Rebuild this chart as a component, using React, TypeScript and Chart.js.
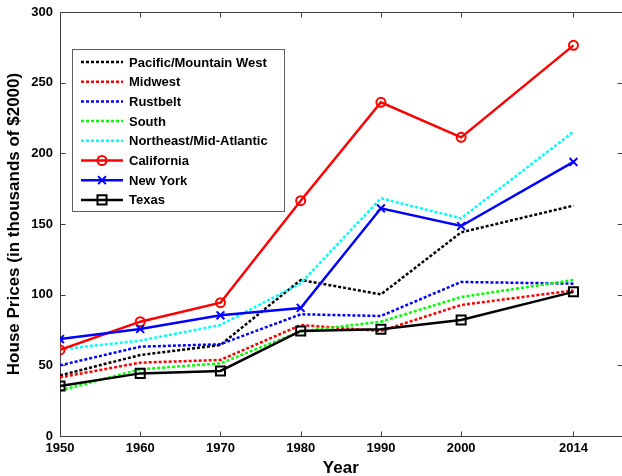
import React, { useEffect, useRef } from 'react';
import { Chart, registerables } from 'chart.js';
Chart.register(...registerables);

const years = [1950, 1960, 1970, 1980, 1990, 2000, 2014];
const xTickValues = [1950, 1960, 1970, 1980, 1990, 2000, 2014];
const yTickStep = 50;
const seriesNames = [
  'Pacific/Mountain West',
  'Midwest',
  'Rustbelt',
  'South',
  'Northeast/Mid-Atlantic',
  'California',
  'New York',
  'Texas',
];
const pacific = [42.9, 57.3, 64.4, 110.4, 100.2, 144.1, 163];
const midwest = [41.5, 51.9, 53.8, 78.5, 74.3, 92.7, 103];
const rustbelt = [50, 63.2, 64.9, 86.1, 84.9, 109, 107.8];
const south = [32.1, 47.2, 51.4, 74, 80.9, 98.3, 110.4];
const northeast = [61.3, 67.5, 78.5, 108, 168.2, 154, 215.3];
const california = [60.9, 80.9, 94.3, 166.5, 236.1, 211.3, 276.4];
const newYork = [68.6, 75.7, 85.4, 90.6, 161.1, 148.6, 193.9];
const texas = [35.4, 44.3, 46, 74.3, 75.5, 82.1, 102];

const seriesValues = [pacific, midwest, rustbelt, south, northeast, california, newYork, texas];
const seriesColors = ['#000000', '#ff0000', '#0000ff', '#00ff00', '#00ffff', '#ff0000', '#0000ff', '#000000'];
const seriesDotted = [true, true, true, true, true, false, false, false];
const seriesMarkers: (string | false)[] = [false, false, false, false, false, 'circle', 'crossRot', 'rect'];
const markerRadius: Record<string, number> = { circle: 4.5, crossRot: 5.5, rect: 6.4 };

const FONT = 'Liberation Sans, Arial, sans-serif';

function drawMarker(ctx: CanvasRenderingContext2D, style: string, x: number, y: number, r: number) {
  ctx.beginPath();
  if (style === 'circle') {
    ctx.arc(x, y, r, 0, Math.PI * 2);
  } else if (style === 'rect') {
    const s = Math.SQRT1_2 * r;
    ctx.rect(x - s, y - s, 2 * s, 2 * s);
  } else if (style === 'crossRot') {
    const o = Math.SQRT1_2 * r;
    ctx.moveTo(x - o, y - o);
    ctx.lineTo(x + o, y + o);
    ctx.moveTo(x - o, y + o);
    ctx.lineTo(x + o, y - o);
  }
  ctx.stroke();
}

const framePlugin = {
  id: 'frame',
  beforeDatasetsDraw(chart: any) {
    const { ctx, chartArea: a, scales } = chart;
    const xs = scales.x;
    const ys = scales.y;
    ctx.save();
    ctx.strokeStyle = '#404040';
    ctx.lineWidth = 1;
    const L = Math.round(a.left) + 0.5;
    const R = Math.round(a.right) + 0.5;
    const T = Math.round(a.top) + 0.5;
    const B = Math.round(a.bottom) + 0.5;
    ctx.strokeRect(L, T, R - L, B - T);
    const tl = 5;
    ctx.beginPath();
    for (const v of xTickValues) {
      const px = Math.round(xs.getPixelForValue(v)) + 0.5;
      ctx.moveTo(px, B); ctx.lineTo(px, B - tl);
      ctx.moveTo(px, T); ctx.lineTo(px, T + tl);
    }
    for (let v = ys.min; v <= ys.max; v += yTickStep) {
      const py = Math.round(ys.getPixelForValue(v)) + 0.5;
      ctx.moveTo(L, py); ctx.lineTo(L + tl, py);
      ctx.moveTo(R, py); ctx.lineTo(R - tl, py);
    }
    ctx.stroke();
    ctx.restore();
  },
};

const legendPlugin = {
  id: 'matlabLegend',
  afterDraw(chart: any) {
    const { ctx } = chart;
    const bx = 72.5, by = 49.5, bw = 212, bh = 162;
    ctx.save();
    ctx.fillStyle = '#ffffff';
    ctx.fillRect(bx, by, bw, bh);
    ctx.strokeStyle = '#606060';
    ctx.lineWidth = 1;
    ctx.strokeRect(bx, by, bw, bh);
    ctx.font = `bold 13px ${FONT}`;
    ctx.textBaseline = 'middle';
    ctx.textAlign = 'left';
    seriesNames.forEach((name, i) => {
      const yy = 62 + i * 19.7;
      ctx.strokeStyle = seriesColors[i];
      ctx.lineWidth = 2.5;
      ctx.setLineDash(seriesDotted[i] ? [3, 2] : []);
      ctx.beginPath();
      ctx.moveTo(81, yy);
      ctx.lineTo(123, yy);
      ctx.stroke();
      ctx.setLineDash([]);
      const m = seriesMarkers[i];
      if (m) {
        ctx.lineWidth = 2;
        drawMarker(ctx, m, 102, yy, markerRadius[m]);
      }
      ctx.fillStyle = '#000';
      ctx.fillText(name, 129, yy + 1);
    });
    ctx.restore();
  },
};

export default function App() {
  const ref = useRef<HTMLCanvasElement>(null);
  useEffect(() => {
    if (!ref.current) return;
    const datasets = seriesNames.map((name, i) => {
      const m = seriesMarkers[i];
      return {
        label: name,
        data: years.map((yr, j) => ({ x: yr, y: seriesValues[i][j] })),
        borderColor: seriesColors[i],
        backgroundColor: 'rgba(0,0,0,0)',
        borderWidth: 2.5,
        borderDash: seriesDotted[i] ? [3, 2] : [],
        pointStyle: m || 'circle',
        pointRadius: m ? markerRadius[m] : 0,
        pointBorderWidth: 2,
        pointBorderColor: seriesColors[i],
        pointBackgroundColor: 'rgba(0,0,0,0)',
        tension: 0,
        order: seriesNames.length - 1 - i,
      };
    });
    const chart = new Chart(ref.current, {
      type: 'line',
      data: { datasets },
      plugins: [framePlugin, legendPlugin],
      options: {
        animation: false,
        responsive: false,
        devicePixelRatio: 1,
        layout: { padding: { top: 12, right: 6, left: 0, bottom: 0 } },
        plugins: { legend: { display: false }, tooltip: { enabled: false } },
        scales: {
          x: {
            type: 'linear',
            min: 1950,
            max: 2020,
            grid: { display: false, drawTicks: false },
            border: { display: false },
            afterBuildTicks: (scale: any) => {
              scale.ticks = xTickValues.map((v) => ({ value: v }));
            },
            afterFit: (scale: any) => {
              scale.height = 40;
              scale.paddingLeft = 0;
              scale.paddingRight = 0;
            },
            ticks: {
              autoSkip: false,
              maxRotation: 0,
              padding: 5,
              color: '#000',
              font: { family: FONT, size: 13, weight: 'bold' },
              callback: (v: any) => String(v),
            },
            title: {
              display: true,
              text: 'Year',
              color: '#000',
              padding: { top: 0, bottom: -3 },
              font: { family: FONT, size: 17, weight: 'bold' },
            },
          },
          y: {
            type: 'linear',
            min: 0,
            max: 300,
            grid: { display: false, drawTicks: false },
            border: { display: false },
            afterFit: (scale: any) => {
              scale.width = 60;
              scale.paddingTop = 0;
              scale.paddingBottom = 0;
            },
            ticks: {
              stepSize: yTickStep,
              padding: 7,
              color: '#000',
              font: { family: FONT, size: 13, weight: 'bold' },
              callback: (v: any) => String(v),
            },
            title: {
              display: true,
              text: 'House Prices (in thousands of $2000)',
              color: '#000',
              padding: { top: 4, bottom: 0 },
              font: { family: FONT, size: 17, weight: 'bold' },
            },
          },
        },
      } as any,
    });
    return () => chart.destroy();
  }, []);
  return (
    <div style={{ position: 'fixed', left: 0, top: 0, width: 622, height: 476, overflow: 'hidden', background: '#fff' }}>
      <canvas ref={ref} width={630} height={476} style={{ display: 'block' }} />
    </div>
  );
}
